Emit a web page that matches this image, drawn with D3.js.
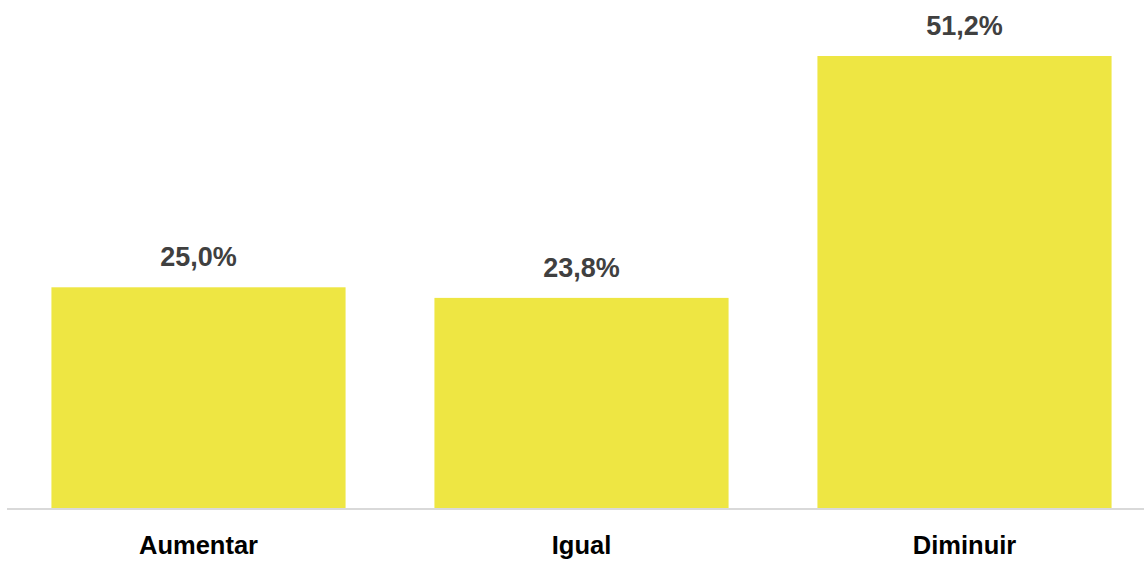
<!DOCTYPE html>
<html>
<head>
<meta charset="utf-8">
<script src="https://cdn.jsdelivr.net/npm/d3@7"></script>
<style>
  body { margin: 0; background: #fff; }
  svg { display: block; }
</style>
</head>
<body>
<div id="chart"></div>
<script>
// answers and their shares (%)
var categories = ["Aumentar", "Igual", "Diminuir"];
var values = [25.0, 23.8, 51.2];

var width = 1144, height = 562,
    baseline = 508;

var svg = d3.select("#chart").append("svg")
    .attr("width", width)
    .attr("height", height);

var x = d3.scaleBand()
    .domain(categories)
    .range([7, 1156])
    .paddingInner(0.232)
    .paddingOuter(0.116);

var y = d3.scaleLinear()
    .domain([0, 51.2])
    .range([baseline, 56]);

var data = categories.map((c, i) => ({cat: c, val: values[i]}));

svg.selectAll("rect.bar")
    .data(data)
    .enter().append("rect")
    .attr("class", "bar")
    .attr("x", d => x(d.cat))
    .attr("width", x.bandwidth())
    .attr("y", d => y(d.val))
    .attr("height", d => baseline - y(d.val))
    .attr("fill", "#eee643");

//baseline axis
var xAxis = d3.axisBottom(x).tickSize(0).tickPadding(27);
var gx = svg.append("g")
    .attr("transform", "translate(0," + (baseline + 1) + ")")
    .call(xAxis);
gx.select(".domain")
    .attr("d", "M7,0H" + width)
    .attr("stroke", "#d9d9d9")
    .attr("stroke-width", 2);
gx.selectAll(".tick text")
    .attr("dy", "0.71em")
    .style("font-family", "'Liberation Sans', Arial, sans-serif")
    .style("font-size", "25.5px")
    .style("font-weight", "bold")
    .attr("fill", "#000");

//value labels
svg.selectAll("text.val")
    .data(data)
    .enter().append("text")
    .attr("class", "val")
    .attr("x", d => x(d.cat) + x.bandwidth() / 2)
    .attr("y", d => y(d.val) - 21)
    .attr("text-anchor", "middle")
    .style("font-family", "'Liberation Sans', Arial, sans-serif")
    .style("font-size", "27px")
    .style("font-weight", "bold")
    .attr("fill", "#404040")
    .text(d => d.val.toFixed(1).replace(".", ",") + "%");
</script>
</body>
</html>
